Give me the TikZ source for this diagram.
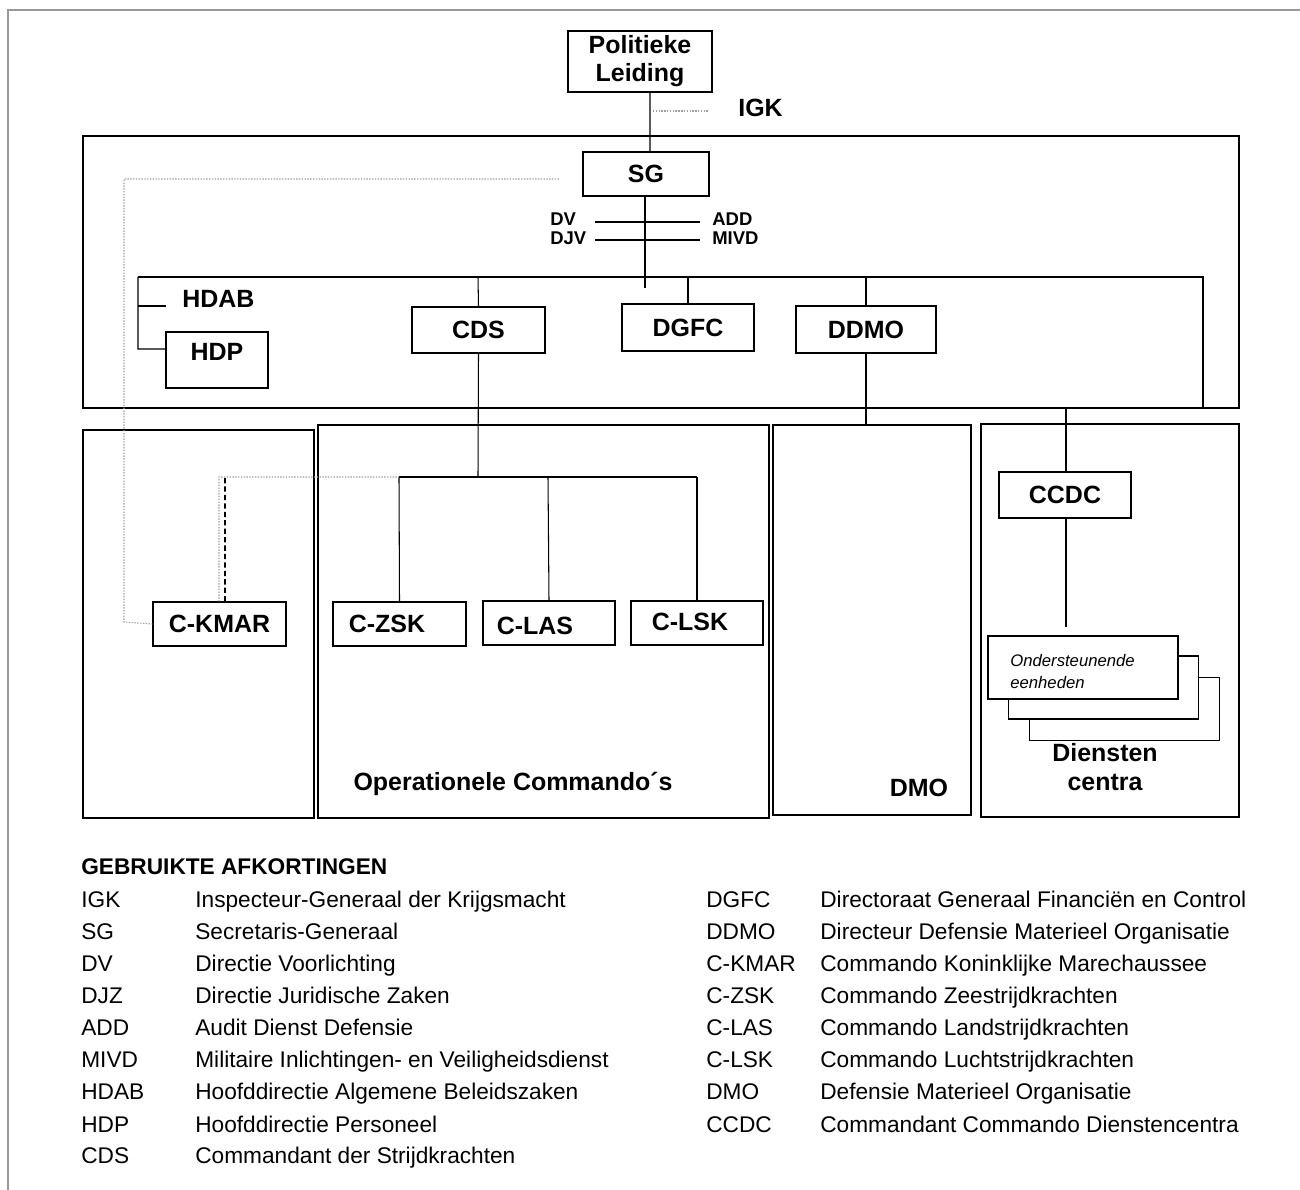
\documentclass[tikz,border=0pt]{standalone}
\usepackage{fontspec}
\setmainfont{Liberation Sans}
\begin{document}
\begin{tikzpicture}[x=0.2mm,y=-0.2mm,
  lbl/.style={font=\fontsize{14.2}{16}\selectfont\bfseries, inner sep=0pt},
  small/.style={font=\fontsize{10.5}{12}\selectfont\bfseries, inner sep=0pt},
  box/.style={draw, line width=0.7pt, inner sep=0pt, fill=white, font=\fontsize{14.2}{16}\selectfont\bfseries},
  panel/.style={draw, line width=1.2pt},
  conn/.style={line width=0.6pt},
  dotline/.style={gray!75, line width=0.6pt, dash pattern=on 0.8pt off 0.8pt},
  dashline/.style={line width=1.1pt, dash pattern=on 3pt off 1.8pt},
  stackbox/.style={draw, line width=0.9pt, fill=white, minimum width=38mm, minimum height=12.6mm, inner sep=0pt},
  leg/.style={font=\fontsize{12.9}{15}\selectfont, inner sep=0pt, anchor=base west}
]
\useasboundingbox (0,0) rectangle (1300,1190);
% outer frame
\draw[gray!80, line width=0.9pt] (8,1190) -- (8,10) -- (1300,10);

% panels
\draw[panel] (83,136) rectangle (1239,408);
\draw[panel] (83,430) rectangle (314,818);
\draw[panel] (318,425) rectangle (769,818);
\draw[panel] (773,425) rectangle (971,815);
\draw[panel] (981,424) rectangle (1239,817);

% top nodes
\node[box, minimum width=28.8mm, minimum height=12.2mm, align=center] (pl) at (640,61.5) {Politieke\\Leiding};
\node[box, minimum width=25.2mm, minimum height=8.8mm] (sg) at (646,174) {SG};
\node[lbl, anchor=west] (igk) at (738,108) {IGK};
\coordinate (igka) at (653,111);
\coordinate (igkb) at (708,111);
\draw[dotline] (igka) -- (igkb);
\draw[conn] ([xshift=2mm]pl.south) -- ([xshift=0.8mm]sg.north);

% staff lines
\node[small, anchor=west] (dv) at (550,219) {DV};
\node[small, anchor=west] (djv) at (550,238) {DJV};
\node[small, anchor=west] (add) at (712,219) {ADD};
\node[small, anchor=west] (mivd) at (712,238) {MIVD};
\coordinate (dva) at (595,222); \coordinate (dvb) at (700,222);
\coordinate (dja) at (595,240); \coordinate (djb) at (700,240);
\draw[conn] (dva) -- (dvb);
\draw[conn] (dja) -- (djb);

% second level
\node[box, minimum width=26.6mm, minimum height=9.2mm] (cds) at (478.5,330) {CDS};
\node[box, minimum width=26.4mm, minimum height=9.4mm] (dgfc) at (688,327.5) {DGFC};
\node[box, minimum width=28mm, minimum height=9.4mm] (ddmo) at (866,329.5) {DDMO};
\node[box, minimum width=20.4mm, minimum height=11.2mm] (hdp) at (217,360) {};
\node[lbl] (hdpt) at (217,352) {HDP};
\node[lbl, anchor=west] (hdab) at (182,299) {HDAB};

\coordinate (bl) at (138,277);
\coordinate (br) at (1203,277);
\coordinate (brd) at (1203,408);
\coordinate (sgd) at (645,288);
\draw[conn] ([xshift=-0.2mm]sg.south) -- (sgd);
\draw[conn] (bl) -- (br) -- (brd);
\draw[conn] (bl) -- (138,349) -- ([yshift=2.2mm]hdp.west);
\draw[conn] (138,306) -- (166,306);
\draw[conn] (478,277) -- (cds.north);
\draw[conn] (688,277) -- (dgfc.north);
\draw[conn] (866,277) -- (ddmo.north);
\draw[conn] (ddmo.south) -- (866,425);

% operational commands
\node[box, minimum width=26.6mm, minimum height=8.8mm] (ckmar) at (219.5,624) {C-KMAR};
\node[box, minimum width=26.6mm, minimum height=8.8mm] (czsk) at (399.5,624) {};
\node[box, minimum width=26.4mm, minimum height=8.8mm] (clas) at (549,623) {};
\node[box, minimum width=26.4mm, minimum height=8.8mm] (clsk) at (697,623) {};
\node[lbl] (czskt) at (387,624) {C-ZSK};
\node[lbl] (clast) at (535,626) {C-LAS};
\node[lbl] (clskt) at (690,622) {C-LSK};

\coordinate (oa) at (399,477);
\coordinate (ob) at (697,477);
\draw[conn] (cds.south) -- (478,477);
\draw[conn] (oa) -- (ob);
\draw[conn] (oa) -- (czsk.north);
\draw[conn] (548,477) -- (clas.north);
\draw[conn] (ob) -- (clsk.north);

% dotted / dashed lines to C-KMAR
\draw[dotline] (559,179) -- (124,179) -- (124,622) -- (ckmar.west);
\draw[dotline] ([xshift=-0.1mm]ckmar.north) -- (219,477) -- (oa);
\draw[dashline] ([xshift=1.1mm]ckmar.north) -- (225,477);

% panel titles
\node[lbl] (opc) at (513,784) {Operationele Commando´s};
\node[lbl] (dmo) at (919,788) {DMO};
\node[lbl, align=center, font=\fontsize{14.2}{16.4}\selectfont\bfseries] (dc) at (1105,767) {Diensten\\centra};

% diensten centra
\node[box, minimum width=26.4mm, minimum height=9.2mm] (ccdc) at (1065,495) {CCDC};
\draw[conn] (1066,408) -- ([xshift=0.2mm]ccdc.north);
\coordinate (ccdcd) at (1066,627);
\draw[conn] ([xshift=0.2mm]ccdc.south) -- (ccdcd);
\node[stackbox] (s3) at (1124.5,709) {};
\node[stackbox] (s2) at (1103.5,687.5) {};
\node[stackbox] (s1) at (1083,667.5) {};
\node[font=\fontsize{9.5}{12.5}\selectfont\itshape, align=left, anchor=west, inner sep=0pt] (ond) at (1010,672) {Ondersteunende\\eenheden};

% legend
\node[leg, font=\fontsize{12.9}{15}\selectfont\bfseries] (lh) at (81,875) {GEBRUIKTE AFKORTINGEN};
\foreach \a/\d [count=\i] in {IGK/Inspecteur-Generaal der Krijgsmacht, SG/Secretaris-Generaal, DV/Directie Voorlichting, DJZ/Directie Juridische Zaken, ADD/Audit Dienst Defensie, MIVD/Militaire Inlichtingen- en Veiligheidsdienst, HDAB/Hoofddirectie Algemene Beleidszaken, HDP/Hoofddirectie Personeel, CDS/Commandant der Strijdkrachten}{
  \node[leg] (la\i) at (81,{908+32*(\i-1)}) {\a};
  \node[leg] (ld\i) at (195,{908+32*(\i-1)}) {\d};
}
\foreach \a/\d [count=\i] in {DGFC/Directoraat Generaal Financiën en Control, DDMO/Directeur Defensie Materieel Organisatie, C-KMAR/Commando Koninklijke Marechaussee, C-ZSK/Commando Zeestrijdkrachten, C-LAS/Commando Landstrijdkrachten, C-LSK/Commando Luchtstrijdkrachten, DMO/Defensie Materieel Organisatie, CCDC/Commandant Commando Dienstencentra}{
  \node[leg] (ra\i) at (706,{908+32*(\i-1)}) {\a};
  \node[leg] (rd\i) at (820,{908+32*(\i-1)}) {\d};
}
\end{tikzpicture}
\end{document}
